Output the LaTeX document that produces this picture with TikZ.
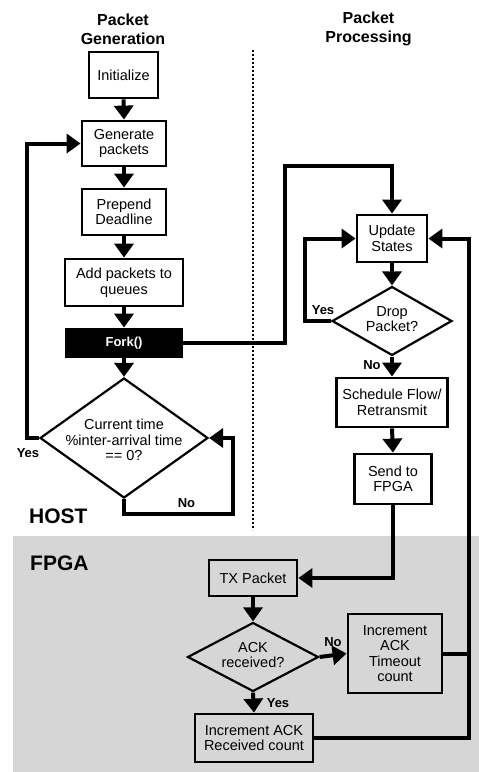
\documentclass[tikz,border=0pt]{standalone}
\usepackage{fontspec}
\setmainfont{Liberation Sans}
\usetikzlibrary{arrows.meta,shapes.geometric,calc}
\definecolor{bggray}{RGB}{214,214,214}
\newcommand\bxfont{\fontsize{14.5}{15.5}\selectfont}
\newcommand\lblfont{\bfseries\fontsize{13}{14}\selectfont}
\newcommand\ttlfont{\bfseries\fontsize{16}{19}\selectfont}
\newcommand\bigfont{\bfseries\fontsize{21}{24}\selectfont}
\begin{document}
\begin{tikzpicture}[x=1pt,y=-1pt,
  box/.style={draw,line width=2.8pt,inner sep=0pt,align=center,font=\bxfont},
  dia/.style={draw,diamond,line width=2.2pt,inner sep=0pt},
  txt/.style={inner sep=0pt,align=center,font=\bxfont},
  arr/.style={line width=4pt,-{Triangle[length=14pt,width=19pt]}},
  ln/.style={line width=4pt},
  lbl/.style={inner sep=0pt,font=\lblfont},
  ttl/.style={inner sep=0pt,align=center,font=\ttlfont},
  big/.style={inner sep=0pt,font=\bigfont}]
\useasboundingbox (0,0) rectangle (479,772);
% FPGA background
\fill[bggray] (13,536) rectangle (479,772);
% separator
\draw[line width=2.4pt,dash pattern=on 2pt off 2pt] (253,50) -- (253,530);
% titles
\node[ttl] (t1) at (123,29) {Packet\\Generation};
\node[ttl] (t2) at (368.5,29) {Packet\\Processing};
\node[big,anchor=base west] (host) at (29,523) {HOST};
\node[big,anchor=base west] (fpga) at (30,570) {FPGA};
% left column
\node[box,minimum width=69pt,minimum height=46pt] (init) at (123.5,75) {Initialize};
\node[box,minimum width=84pt,minimum height=45pt] (gen) at (124,143.5) {Generate\\packets};
\node[box,minimum width=84pt,minimum height=46pt] (prep) at (124,212) {Prepend\\Deadline};
\node[box,minimum width=118pt,minimum height=47pt] (addq) at (124,282.5) {Add packets to\\queues};
\node[box,fill=black,text=white,font=\lblfont,minimum width=115pt,minimum height=28pt] (fork) at (124,343) {Fork()};
\node[dia,minimum width=168pt,minimum height=120pt] (cur) at (124,438) {};
\node[txt] (curT) at (124,440) {Current time\\\%inter-arrival time\\== 0?};
% right column
\node[box,minimum width=70pt,minimum height=47pt] (upd) at (392,238.5) {Update\\States};
\node[dia,minimum width=120pt,minimum height=69pt] (drop) at (392,321) {};
\node[txt] (dropT) at (392,319) {Drop\\Packet?};
\node[box,minimum width=111pt,minimum height=49pt] (sched) at (392,402.5) {Schedule Flow/\\Retransmit};
\node[box,minimum width=77pt,minimum height=50pt] (send) at (393,479) {Send to\\FPGA};
% FPGA part
\node[box,minimum width=88pt,minimum height=36pt] (tx) at (253,578) {TX Packet};
\node[dia,minimum width=131pt,minimum height=69pt] (ack) at (253,657) {};
\node[txt] (ackT) at (253,655) {ACK\\received?};
\node[box,minimum width=94pt,minimum height=79pt] (tmo) at (395,653.5) {Increment\\ACK\\Timeout\\count};
\node[box,minimum width=118pt,minimum height=48pt] (rcv) at (254,738) {Increment ACK\\Received count};
% connectors left
\draw[arr] (init.south) -- (gen.north);
\draw[arr] (gen.south) -- (prep.north);
\draw[arr] (prep.south) -- (addq.north);
\draw[arr] (addq.south) -- (fork.north);
\draw[arr] (fork.south) -- (cur.north);
\draw[arr] (cur.west) -- ++(-12,0) |- (gen.west);
\draw[arr] (cur.south) -- ++(0,15) -- ++(109,0) |- (cur.east);
\node[lbl] (yes1) at (28,453) {Yes};
\node[lbl] (no1) at (186.5,503) {No};
% fork to processing
\draw[arr] (fork.east) -- ++(102,0) -- ++(0,-177) -| (upd.north);
% right connectors
\draw[arr] (upd.south) -- (drop.north);
\draw[arr] (drop.west) -- ++(-26,0) |- (upd.west);
\node[lbl] (yes2) at (323,310) {Yes};
\draw[arr] (drop.south) -- (sched.north);
\node[lbl] (no2) at (372,365) {No};
\draw[arr] (sched.south) -- (send.north);
\draw[arr] (send.south) |- (tx.east);
% FPGA connectors
\draw[arr] (tx.south) -- (ack.north);
\draw[arr] (ack.east) -- (tmo.west);
\node[lbl] (no3) at (333,642) {No};
\draw[arr] (ack.south) -- (rcv.north);
\node[lbl] (yes3) at (278,703) {Yes};
\draw[arr] (rcv.east) -- ++(155,0) |- (upd.east);
\draw[ln] (tmo.east) -- ++(26,0);
\end{tikzpicture}
\end{document}
